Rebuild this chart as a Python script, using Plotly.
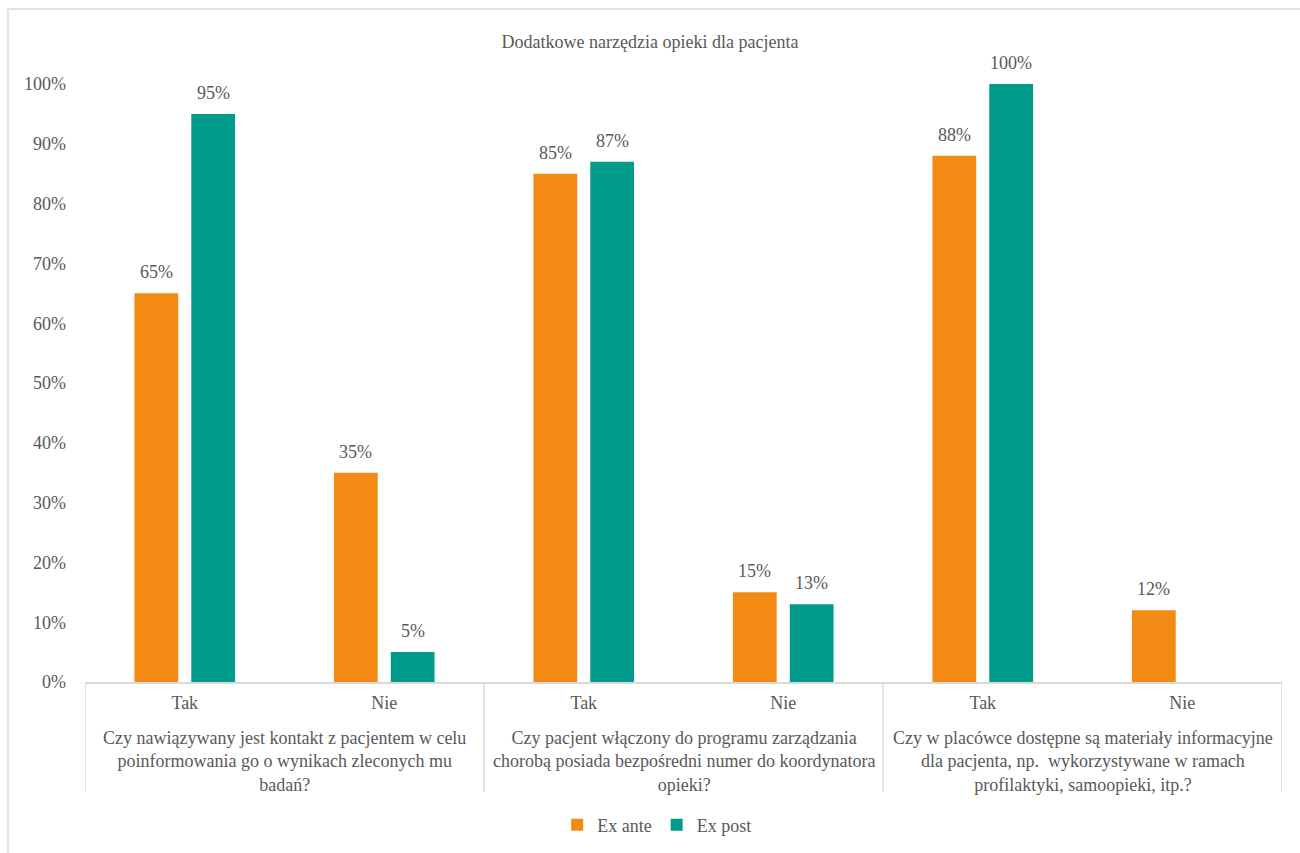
import plotly.graph_objects as go

title = "Dodatkowe narzędzia opieki dla pacjenta"
questions = [
    "Czy nawiązywany jest kontakt z pacjentem w celu<br>poinformowania go o wynikach zleconych mu<br>badań?",
    "Czy pacjent włączony do programu zarządzania<br>chorobą posiada bezpośredni numer do koordynatora<br>opieki?",
    "Czy w placówce dostępne są materiały informacyjne<br>dla pacjenta, np.  wykorzystywane w ramach<br>profilaktyki, samoopieki, itp.?",
]
answers = ["Tak", "Nie"]
ex_ante = [0.65, 0.35, 0.85, 0.15, 0.88, 0.12]
ex_post = [0.95, 0.05, 0.87, 0.13, 1.00, None]

FONT = "Liberation Serif, Times New Roman, serif"
GREY = "#595959"
LINE = "#d9d9d9"
SIZE = 18

BARGAP, BARGROUPGAP = 0.43, 0.23

# one slot per (question, answer) pair
xpos = list(range(len(questions) * len(answers)))
tick_text = [a for _ in questions for a in answers]

fig = go.Figure()
series = [("Ex ante", ex_ante, "#F28A14"), ("Ex post", ex_post, "#009B8A")]
for name, vals, color in series:
    fig.add_trace(go.Bar(name=name, x=xpos, y=vals, marker=dict(color=color, line=dict(width=0))))

# value labels above each bar
slot = (1 - BARGAP) / len(series)
for k, (name, vals, color) in enumerate(series):
    offset = (k - (len(series) - 1) / 2) * slot
    for x, v in zip(xpos, vals):
        if v is None:
            continue
        fig.add_annotation(x=x + offset, y=v, xref="x", yref="y", text=f"{round(v * 100)}%",
                           showarrow=False, yanchor="middle", yshift=21,
                           font=dict(size=SIZE, color=GREY, family=FONT))

# question captions and group dividers below the axis
n = len(answers)
for g, q in enumerate(questions):
    fig.add_annotation(x=g * n + (n - 1) / 2, y=(682 - 726) / 598, xref="x", yref="paper",
                       text=q, showarrow=False, yanchor="top", align="center",
                       font=dict(size=SIZE, color=GREY, family=FONT))
for g in range(len(questions) + 1):
    fig.add_shape(type="line", xref="x", yref="paper", x0=g * n - 0.5, x1=g * n - 0.5,
                  y0=0, y1=(682 - 792) / 598, line=dict(color=LINE, width=1.5))

# light frame around the chart area
fig.add_shape(type="rect", xref="paper", yref="paper",
              x0=(8 - 85) / 1197, x1=(1320 - 85) / 1197,
              y0=(682 - 880) / 598, y1=(682 - 9) / 598,
              line=dict(color=LINE, width=1.5), fillcolor="rgba(0,0,0,0)", layer="below")

fig.update_layout(
    width=1300, height=853,
    paper_bgcolor="white", plot_bgcolor="white",
    font=dict(family=FONT, size=SIZE, color=GREY),
    title=dict(text=title, x=0.5, xanchor="center", y=0.951, yanchor="middle",
               font=dict(size=SIZE, color=GREY, family=FONT)),
    margin=dict(l=85, r=18, t=84, b=171, autoexpand=False),
    barmode="group", bargap=BARGAP, bargroupgap=BARGROUPGAP,
    legend=dict(orientation="h", x=0.478, xanchor="center", y=(682 - 825) / 598, yanchor="middle",
                font=dict(size=SIZE, color=GREY, family=FONT), itemwidth=30,
                bgcolor="rgba(0,0,0,0)", traceorder="normal"),
    showlegend=True,
)
fig.update_xaxes(
    range=[-0.5, len(xpos) - 0.5], tickvals=xpos, ticktext=tick_text,
    showline=True, linecolor=LINE, linewidth=1.5, ticks="", showgrid=False, zeroline=False,
    tickfont=dict(size=SIZE, color=GREY, family=FONT), ticklabelstandoff=4, automargin=False,
)
fig.update_yaxes(
    range=[0, 1], tickformat=".0%", dtick=0.1, showgrid=False, zeroline=False,
    showline=False, tickfont=dict(size=SIZE, color=GREY, family=FONT),
    ticklabelstandoff=18, automargin=False,
)

fig.write_html("out.html")
